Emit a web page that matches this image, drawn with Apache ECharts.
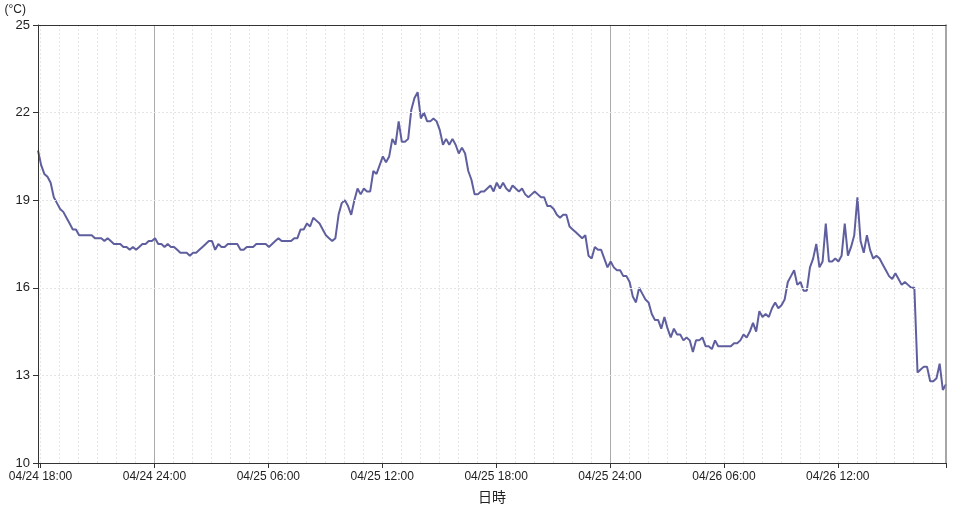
<!DOCTYPE html>
<html>
<head>
<meta charset="utf-8">
<script src="https://cdn.jsdelivr.net/npm/echarts@6/dist/echarts.min.js"></script>
<style>
html,body{margin:0;padding:0;background:#fff;}
#chart{width:957px;height:510px;}
</style>
</head>
<body>
<div id="chart"></div>
<script>
// Time axis in minutes since 04/24 00:00; one reading every 10 minutes
const startMinute = 1072;   // 04/24 17:52
const stepMinutes = 10;
const baseMonth = '04';
const baseDay = 24;

// Temperature (°C)
const temps = [
  20.7,20.2,19.9,19.8,19.6,19.1,18.9,18.7,18.6,18.4,
  18.2,18.0,18.0,17.8,17.8,17.8,17.8,17.8,17.7,17.7,
  17.7,17.6,17.7,17.6,17.5,17.5,17.5,17.4,17.4,17.3,
  17.4,17.3,17.4,17.5,17.5,17.6,17.6,17.7,17.5,17.5,
  17.4,17.5,17.4,17.4,17.3,17.2,17.2,17.2,17.1,17.2,
  17.2,17.3,17.4,17.5,17.6,17.6,17.3,17.5,17.4,17.4,
  17.5,17.5,17.5,17.5,17.3,17.3,17.4,17.4,17.4,17.5,
  17.5,17.5,17.5,17.4,17.5,17.6,17.7,17.6,17.6,17.6,
  17.6,17.7,17.7,18.0,18.0,18.2,18.1,18.4,18.3,18.2,
  18.0,17.8,17.7,17.6,17.7,18.5,18.9,19.0,18.8,18.5,
  19.0,19.4,19.2,19.4,19.3,19.3,20.0,19.9,20.2,20.5,
  20.3,20.5,21.1,20.9,21.7,21.0,21.0,21.1,22.1,22.5,
  22.7,21.8,22.0,21.7,21.7,21.8,21.7,21.4,20.9,21.1,
  20.9,21.1,20.9,20.6,20.8,20.6,20.0,19.7,19.2,19.2,
  19.3,19.3,19.4,19.5,19.3,19.6,19.4,19.6,19.4,19.3,
  19.5,19.4,19.3,19.4,19.2,19.1,19.2,19.3,19.2,19.1,
  19.1,18.8,18.8,18.7,18.5,18.4,18.5,18.5,18.1,18.0,
  17.9,17.8,17.7,17.8,17.1,17.0,17.4,17.3,17.3,17.0,
  16.7,16.9,16.7,16.6,16.6,16.4,16.4,16.2,15.7,15.5,
  16.0,15.8,15.6,15.5,15.1,14.9,14.9,14.6,15.0,14.6,
  14.3,14.6,14.4,14.4,14.2,14.3,14.2,13.8,14.2,14.2,
  14.3,14.0,14.0,13.9,14.2,14.0,14.0,14.0,14.0,14.0,
  14.1,14.1,14.2,14.4,14.3,14.5,14.8,14.5,15.2,15.0,
  15.1,15.0,15.3,15.5,15.3,15.4,15.6,16.2,16.4,16.6,
  16.1,16.2,15.9,15.9,16.7,17.0,17.5,16.7,16.9,18.2,
  16.9,16.9,17.0,16.9,17.1,18.2,17.1,17.4,17.8,19.1,
  17.6,17.2,17.8,17.3,17.0,17.1,17.0,16.8,16.6,16.4,
  16.3,16.5,16.3,16.1,16.2,16.1,16.0,16.0,13.1,13.2,
  13.3,13.3,12.8,12.8,12.9,13.4,12.5,12.7
];

// Axis labels (minutes since 04/24 00:00)
const labelMinutes = [1080, 1440, 1800, 2160, 2520, 2880, 3240, 3600];
const yTicks = [10, 13, 16, 19, 22, 25];

const endMinute = startMinute + stepMinutes * (temps.length - 1);
const seriesData = temps.map((v, i) => [startMinute + i * stepMinutes, v]);

// Grid lines every hour; solid at midnight
const hourLines = [];
const midnightLines = [];
for (let m = Math.ceil(startMinute / 60) * 60; m < endMinute; m += 60) {
  if (m % 1440 === 0) midnightLines.push(m); else hourLines.push(m);
}

function fmt(m) {
  let day = Math.floor(m / 1440);
  let hh = Math.floor((m % 1440) / 60);
  const mm = m % 60;
  if (hh === 0 && mm === 0) { day -= 1; hh = 24; }
  const p = n => (n < 10 ? '0' : '') + n;
  return baseMonth + '/' + p(baseDay + day) + ' ' + p(hh) + ':' + p(mm);
}

const chart = echarts.init(document.getElementById('chart'), null, {renderer: 'canvas'});
const axisColor = '#333';
chart.setOption({
  animation: false,
  backgroundColor: '#fff',
  textStyle: {fontFamily: 'Liberation Sans, Arial, sans-serif'},
  grid: {left: 38, right: 11, top: 25, bottom: 47, containLabel: false},
  xAxis: [{
    type: 'value',
    min: startMinute,
    max: endMinute,
    position: 'bottom',
    z: 6,
    name: '日時',
    nameLocation: 'middle',
    nameGap: 27,
    nameTextStyle: {fontSize: 14, color: '#222', fontFamily: 'Noto Sans CJK JP, sans-serif'},
    axisLine: {show: true, lineStyle: {color: axisColor, width: 1}},
    axisTick: {show: true, length: 5, lineStyle: {color: axisColor},
      customValues: [startMinute].concat(labelMinutes, [endMinute])},
    axisLabel: {show: true, customValues: labelMinutes, formatter: fmt,
      fontSize: 12, color: '#222', margin: 8},
    splitLine: {show: false}
  }, {
    type: 'value',
    min: startMinute,
    max: endMinute,
    position: 'top',
    z: 6,
    axisLine: {show: true, lineStyle: {color: axisColor, width: 1}},
    axisTick: {show: false},
    axisLabel: {show: false},
    splitLine: {show: false}
  }],
  yAxis: [{
    type: 'value',
    min: yTicks[0],
    max: yTicks[yTicks.length - 1],
    interval: 3,
    position: 'left',
    z: 6,
    name: '(°C)',
    nameLocation: 'end',
    nameGap: 9,
    nameTextStyle: {fontSize: 12, color: '#222', align: 'right', padding: [0, 12, 0, 0]},
    axisLine: {show: true, lineStyle: {color: axisColor, width: 1}},
    axisTick: {show: true, length: 5, lineStyle: {color: axisColor}},
    axisLabel: {fontSize: 13, color: '#222', margin: 8},
    splitLine: {show: true, showMinLine: false, showMaxLine: false,
      lineStyle: {color: '#e4e4e4', type: [2, 2], width: 1}}
  }, {
    type: 'value',
    min: yTicks[0],
    max: yTicks[yTicks.length - 1],
    position: 'right',
    z: 6,
    axisLine: {show: true, lineStyle: {color: '#888', width: 1.5}},
    axisTick: {show: false},
    axisLabel: {show: false},
    splitLine: {show: false}
  }],
  series: [{
    type: 'line',
    data: [],
    z: 1,
    silent: true,
    markLine: {
      z: 1,
      silent: true,
      symbol: ['none', 'none'],
      label: {show: false},
      animation: false,
      data: hourLines.map(m => ({xAxis: m, lineStyle: {color: '#e6e6e6', type: [2, 2], width: 1}}))
        .concat(midnightLines.map(m => ({xAxis: m, lineStyle: {color: '#aaaaaa', type: 'solid', width: 1}})))
    }
  }, {
    type: 'line',
    name: '気温',
    data: seriesData,
    z: 4,
    showSymbol: false,
    symbol: 'none',
    lineStyle: {color: '#5f5f9f', width: 2},
    itemStyle: {color: '#5f5f9f'}
  }]
});
</script>
</body>
</html>
